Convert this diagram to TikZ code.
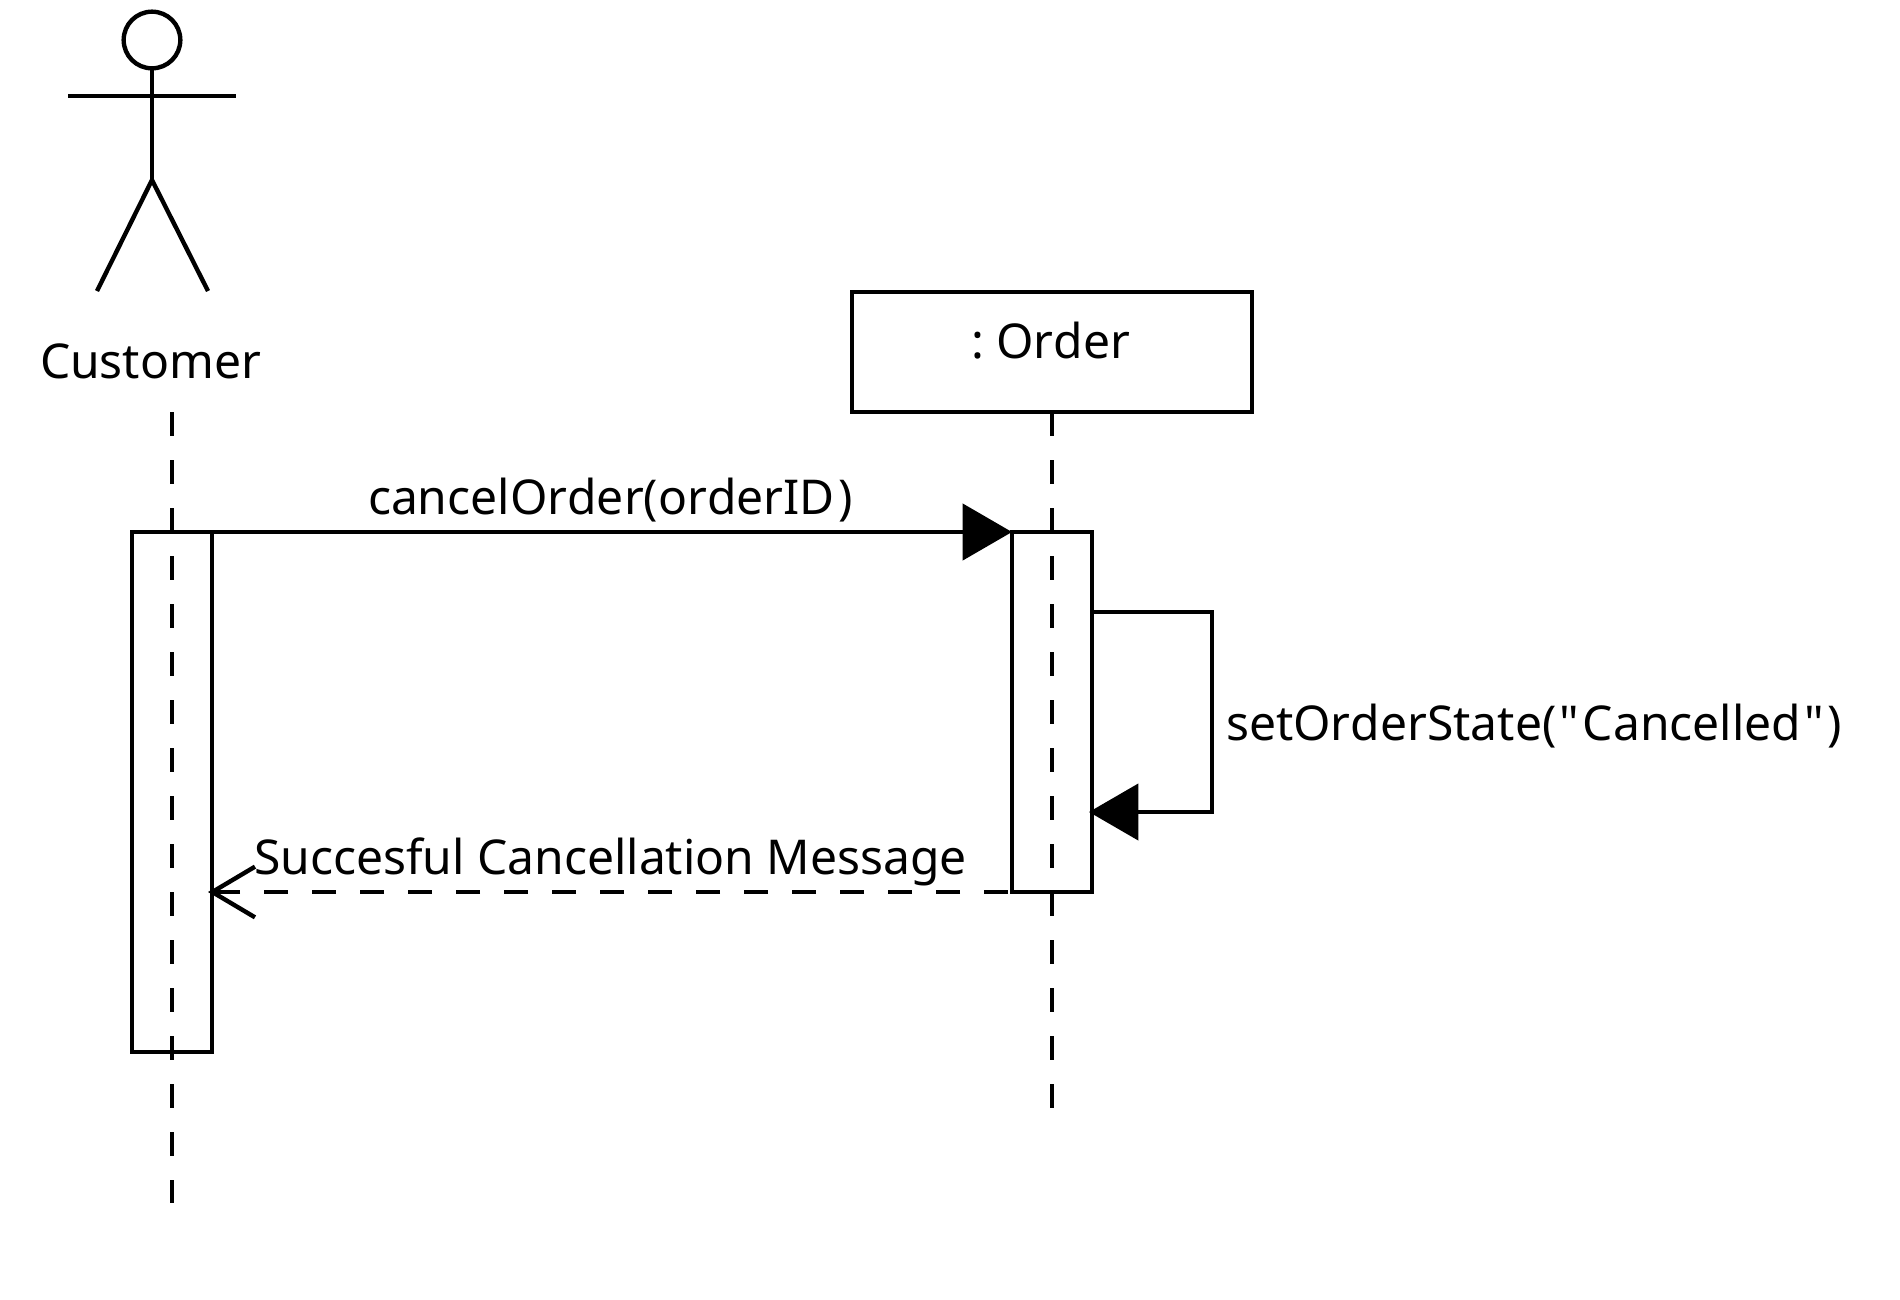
\documentclass[tikz,border=0pt]{standalone}
\usepackage{fontspec}
\setmainfont{Noto Sans}[Ligatures=TeXOff,Kerning=Off]
\usetikzlibrary{calc}
\usetikzlibrary{positioning}
\usetikzlibrary{arrows.meta}

\tikzset{
  uml line/.style={line width=3.3pt},
  life line/.style={uml line,dash pattern=on 18pt off 18pt},
  activation/.style={uml line,draw,rectangle,inner sep=0pt,outer sep=0pt,minimum width=60pt},
  lbl/.style={font=\fontsize{36pt}{43pt}\selectfont,inner sep=0pt,outer sep=0pt,anchor=base west},
  sync tip/.style={-{Triangle[length=37pt,width=42pt]}},
  reply tip/.style={-{Straight Barb[length=32pt,width=38pt]}}
}

\begin{document}
\begin{tikzpicture}[x=0.75pt,y=-0.75pt]
\useasboundingbox (0,0) rectangle (1900,1300);

% the actor
\node[uml line,draw,circle,inner sep=0pt,outer sep=0pt,minimum size=42.5pt] (head) at (152,40) {};
\coordinate (hip) at (152,180);
\coordinate (arm l) at (68,96);
\coordinate (arm r) at (236,96);
\coordinate (foot l) at (97,291);
\coordinate (foot r) at (208,291);
\draw[uml line] (head.south) -- (hip);
\draw[uml line] (arm l) -- (arm r);
\draw[uml line] (foot l) -- (hip) -- (foot r);
\node[lbl] (customer) at (40,378) {Customer};

% the object
\node[activation,minimum width=300pt,minimum height=90pt] (order) at (1052,352) {};
\node[lbl] (order label) at (971,358) {:\kern-3pt{} Order};

% lifelines
\coordinate (life c top) at (172,412);
\coordinate (life c end) at (172,1203);
\coordinate (life o end) at (1052,1108);
\draw[life line] (life c top) -- (life c end);
\draw[life line] (order.south) -- (life o end);

% activation bars
\node[activation,minimum height=390pt] (act c) at (172,792) {};
\node[activation,minimum height=270pt] (act o) at (1052,712) {};

% messages
\coordinate (c start) at (act c.north east);
\coordinate (o start) at (act o.north west);
\draw[uml line,sync tip] (c start) -- (o start);
\node[lbl] (cancel) at (368,514) {cancelOrder(orderID\kern2.7pt)};

\coordinate (self a) at ($(act o.north east)+(0,80)$);
\coordinate (self b) at (1212,612);
\coordinate (self c) at (1212,812);
\coordinate (self d) at ($(act o.north east)+(-3,280)$);
\draw[uml line,sync tip] (self a) -- (self b) -- (self c) -- (self d);
\node[lbl] (set state) at (1226,740) {setOrderState(\kern2.5pt"\kern2.5pt Cancelled\kern2.5pt"\kern2.5pt)};

\coordinate (reply o) at (act o.south west);
\coordinate (reply c) at ($(act c.north east)+(-4,360)$);
\draw[uml line,dash pattern=on 18pt off 18pt,dash phase=33pt,reply tip] (reply o) -- (reply c);
\node[lbl] (reply) at (254,874) {Succesful Cancellation Message};
\end{tikzpicture}
\end{document}
